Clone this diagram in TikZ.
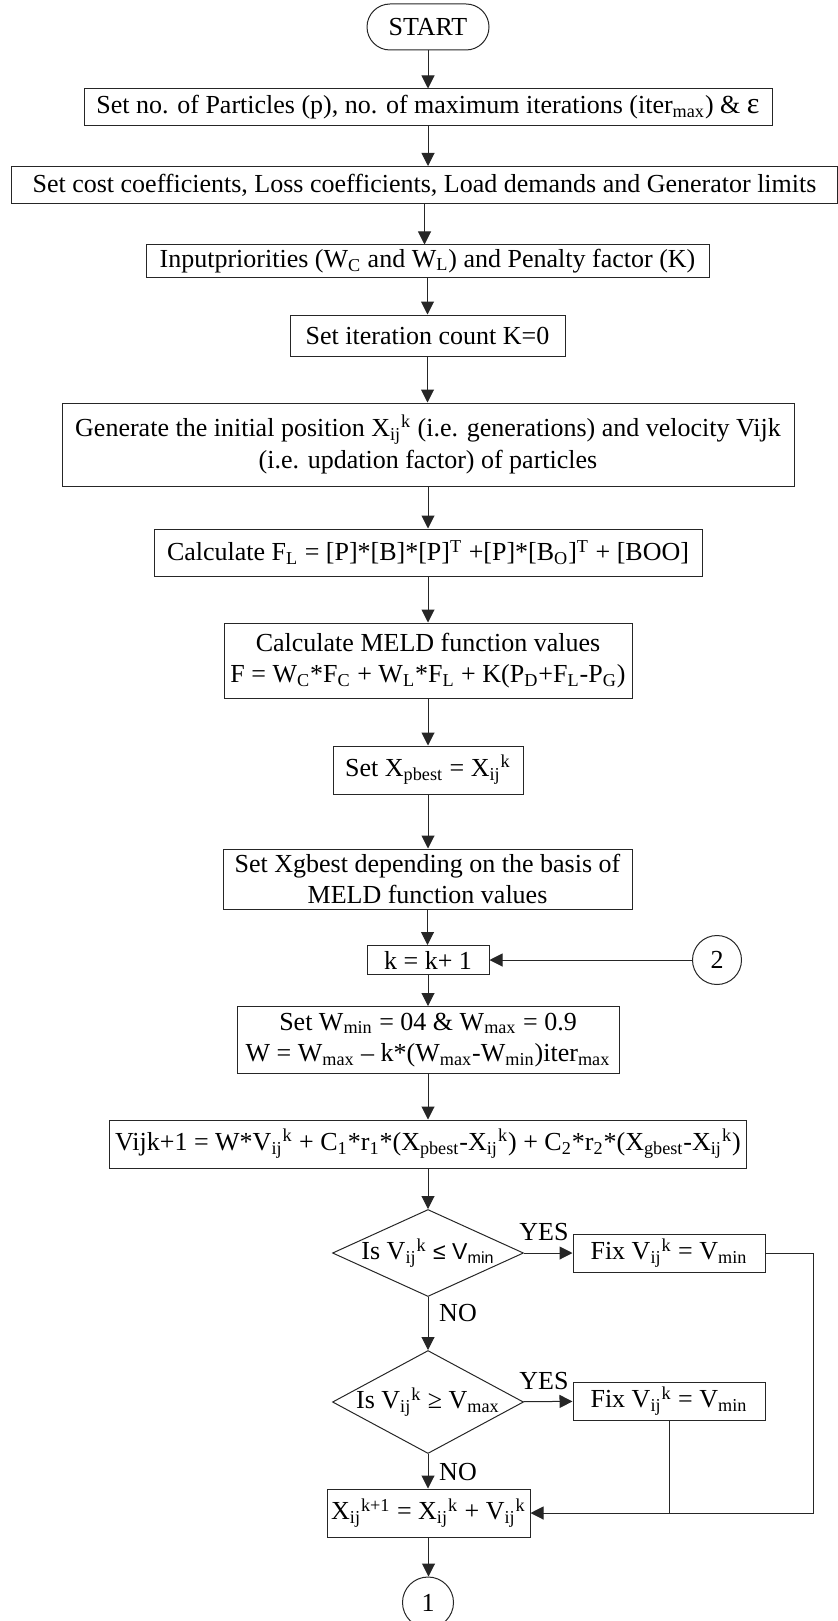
\documentclass[tikz,border=0pt]{standalone}
\usepackage{fontspec}
\setmainfont{Liberation Serif}
\newfontfamily\arialf{Liberation Sans}
\usetikzlibrary{arrows.meta,shapes.geometric}
\newcommand\fs{\fontsize{13}{15.75}\selectfont}
\newcommand\ijk{\textsubscript{ij}\textsuperscript{k}}
\tikzset{
  box/.style={draw=black!85, line width=0.5pt, inner sep=0pt, align=center, font=\fs},
  term/.style={box, rounded corners=11.5pt},
  decision/.style={diamond, draw=black!85, line width=0.5pt, inner sep=0pt, font=\fs},
  conn/.style={circle, draw=black!85, line width=0.5pt, inner sep=0pt, font=\fs},
  flow/.style={-{Triangle[length=6.5pt,width=6.5pt]}, line width=0.5pt, draw=black!85},
  lbl/.style={font=\fs, inner sep=0pt}
}

\begin{document}
\begin{tikzpicture}[x=0.5pt,y=-0.5pt]
\useasboundingbox (0,0) rectangle (838,1621);

\node[term, minimum width=61pt, minimum height=23pt] (start) at (428,27) {START};
\node[box, minimum width=344pt, minimum height=18.5pt] (set1) at (428,107.5)
  {Set no. of Particles (p), no. of maximum iterations (iter\textsubscript{max}) \& {\fontsize{15}{15}\selectfont ε}};
\node[box, minimum width=413pt, minimum height=18.5pt] (set2) at (424.5,185)
  {Set cost coefficients, Loss coefficients, Load demands and Generator limits};
\node[box, minimum width=281.5pt, minimum height=16pt] (inp) at (427.5,261)
  {Inputpriorities (W\textsubscript{C} and W\textsubscript{L}) and Penalty factor (K)};
\node[box, minimum width=137.5pt, minimum height=20.5pt] (iter) at (427.5,335.5) {Set iteration count K=0};
\node[box, minimum width=366pt, minimum height=41.5pt] (gen) at (428,444.5)
  {Generate the initial position X\ijk{} (i.e. generations) and velocity Vijk\\(i.e. updation factor) of particles};
\node[box, minimum width=274pt, minimum height=23.5pt] (calcfl) at (428,552.5)
  {Calculate F\textsubscript{L} = [P]*[B]*[P]\textsuperscript{T} +[P]*[B\textsubscript{O}]\textsuperscript{T} + [BOO]};
\node[box, minimum width=204pt, minimum height=37.5pt] (meld) at (428,660.5)
  {Calculate MELD function values\\F = W\textsubscript{C}*F\textsubscript{C} + W\textsubscript{L}*F\textsubscript{L} + K(P\textsubscript{D}+F\textsubscript{L}-P\textsubscript{G})};
\node[box, minimum width=95pt, minimum height=24pt] (pbest) at (428,770)
  {Set X\textsubscript{pbest} = X\ijk};
\node[box, minimum width=204.5pt, minimum height=30pt] (gbest) at (427.5,879)
  {Set Xgbest depending on the basis of\\MELD function values};
\node[box, minimum width=61pt, minimum height=14.5pt] (kinc) at (428,960) {k = k+ 1};
\node[conn, minimum size=24.5pt] (c2) at (717,960) {2};
\node[box, minimum width=191pt, minimum height=33.5pt] (wset) at (428,1040)
  {Set W\textsubscript{min} = 04 \& W\textsubscript{max} = 0.9\\W = W\textsubscript{max} – k*(W\textsubscript{max}-W\textsubscript{min})iter\textsubscript{max}};
\node[box, minimum width=318.5pt, minimum height=24pt] (vel) at (428,1144)
  {Vijk+1 = W*V\ijk{} + C\textsubscript{1}*r\textsubscript{1}*(X\textsubscript{pbest}-X\ijk) + C\textsubscript{2}*r\textsubscript{2}*(X\textsubscript{gbest}-X\ijk)};
\node[decision, minimum width=95.5pt, minimum height=43.5pt] (dec1) at (428,1253)
  {\makebox[0pt]{Is V\ijk{} {\arialf\fontsize{11.5}{12}\selectfont ≤ V\textsubscript{min}}}};
\node[box, minimum width=96pt, minimum height=19pt] (fix1) at (669,1253) {Fix V\ijk{} = V\textsubscript{min}};
\node[decision, minimum width=95.5pt, minimum height=51.5pt] (dec2) at (428,1402)
  {\makebox[0pt]{Is V\ijk{} ≥ V\textsubscript{max}}};
\node[box, minimum width=96pt, minimum height=19pt] (fix2) at (669,1401) {Fix V\ijk{} = V\textsubscript{min}};
\node[box, minimum width=101.5pt, minimum height=24pt] (xupd) at (428.5,1513)
  {X\textsubscript{ij}\textsuperscript{k+1} = X\ijk{} + V\ijk};
\node[conn, minimum size=25.5pt] (c1) at (428,1602.5) {1};

\node[lbl] (yes1) at (544,1232) {YES};
\node[lbl] (no1) at (458,1313) {NO};
\node[lbl] (yes2) at (544,1381) {YES};
\node[lbl] (no2) at (458,1472) {NO};
\coordinate (rt) at (813.5,1513);

\foreach \a/\b in {start/set1,set1/set2,set2/inp,inp/iter,iter/gen,gen/calcfl,calcfl/meld,
  meld/pbest,pbest/gbest,gbest/kinc,kinc/wset,wset/vel,vel/dec1,dec1/dec2,dec2/xupd,xupd/c1}
  \draw[flow] (\a) -- (\a |- \b.north);
\draw[flow] (c2) -- (kinc);
\draw[flow] (dec1) -- (fix1);
\draw[flow] (dec2) -- (fix2);
\draw[flow] (fix1.east) -| (rt) -- (xupd.east);
\draw[line width=0.5pt, draw=black!85] (fix2.south) -- (fix2.south |- rt);
\end{tikzpicture}
\end{document}
